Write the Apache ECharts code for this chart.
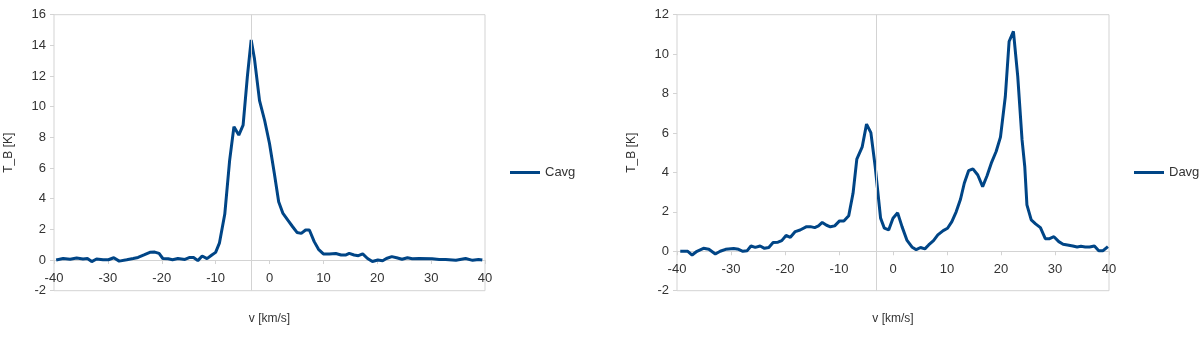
<!DOCTYPE html>
<html>
<head>
<meta charset="utf-8">
<script src="https://cdn.jsdelivr.net/npm/echarts@6/dist/echarts.min.js"></script>
<style>
html,body{margin:0;padding:0;background:#fff;}
#chart{width:1200px;height:343px;}
</style>
</head>
<body>
<div id="chart"></div>
<script>
// ---- Data ----
const cVel = [-39.6,-38.3,-37,-35.8,-34.6,-33.8,-33,-32.1,-30.9,-29.9,-28.9,-27.9,-26.5,-25.3,-24.4,-23.3,-22.2,-21.3,-20.5,-19.8,-18.8,-18,-17,-15.7,-14.8,-14.1,-13.3,-12.5,-11.6,-10.7,-10,-9.3,-8.3,-7.4,-6.6,-5.7,-4.9,-4.1,-3.4,-2.8,-1.85,-0.9,0,0.9,1.7,2.5,3.4,4.3,5.1,5.9,6.7,7.4,8.3,9.1,10,11.1,12.3,13.3,14.2,14.8,15.7,16.5,17.3,18.2,19.1,20.1,21,21.7,22.7,23.6,24.6,25.6,26.5,27.8,30.2,31.5,32.7,34.6,36.4,37.7,38.8,39.5];
const cavg = [0,0.1,0.05,0.13,0.07,0.1,-0.1,0.07,0.02,0.02,0.15,-0.07,0.02,0.1,0.17,0.33,0.5,0.52,0.43,0.1,0.08,0.02,0.1,0.04,0.17,0.17,-0.04,0.26,0.09,0.33,0.5,1.1,3.0,6.5,8.7,8.15,8.8,12,14.35,13.15,10.4,9.1,7.6,5.65,3.8,3.04,2.6,2.17,1.8,1.74,1.96,1.96,1.2,0.7,0.4,0.4,0.43,0.33,0.33,0.43,0.33,0.28,0.4,0.1,-0.1,0,-0.05,0.1,0.22,0.15,0.05,0.15,0.08,0.1,0.08,0.04,0.04,-0.02,0.1,-0.02,0.04,0];

const dVel = [-39.4,-38,-37.2,-36.3,-35.1,-34.1,-32.9,-32,-31,-29.5,-28.6,-27.8,-27,-26.3,-25.5,-24.6,-23.8,-23,-22.2,-21.3,-20.6,-19.8,-19,-18.1,-17.2,-16,-15.3,-14.5,-13.8,-13.1,-12.3,-11.6,-10.8,-9.9,-9.1,-8.2,-7.4,-6.7,-5.7,-4.9,-4.1,-3.3,-2.3,-1.6,-0.8,0,0.86,1.67,2.6,3.5,4.3,5.1,5.9,6.6,7.5,8.3,9.3,10.1,10.9,11.7,12.5,13.2,14,14.8,15.7,16.6,17.4,18.2,19.1,19.9,20.8,21.5,22.3,23.1,23.9,24.4,24.8,25.6,26.4,27.3,28.2,29,29.8,30.7,31.5,32.3,33.3,34.1,34.8,35.6,36.4,37.3,38.1,38.9,39.8];
const davg = [0,0,-0.19,0,0.15,0.1,-0.14,0,0.1,0.14,0.1,0,0.03,0.27,0.2,0.27,0.15,0.19,0.44,0.46,0.54,0.8,0.71,1.0,1.08,1.25,1.25,1.2,1.29,1.46,1.32,1.24,1.29,1.54,1.54,1.8,2.94,4.67,5.3,6.45,6.02,4.3,1.68,1.17,1.08,1.68,1.95,1.25,0.55,0.22,0.08,0.19,0.12,0.32,0.54,0.83,1.05,1.17,1.5,2.0,2.64,3.45,4.09,4.18,3.87,3.28,3.82,4.47,5.06,5.79,7.85,10.64,11.15,8.87,5.65,4.3,2.35,1.59,1.39,1.2,0.64,0.64,0.74,0.49,0.36,0.32,0.27,0.22,0.25,0.22,0.22,0.27,0.03,0.03,0.24];

const xTicks = [-40, 40, 10];      // min, max, interval
const cYTicks = [-2, 16, 2];
const dYTicks = [-2, 12, 2];
const seriesNames = ['Cavg', 'Davg'];
const axisNames = ['v [km/s]', 'T_B [K]'];
const crossV = [-3.3, -3.1];       // v where the vertical (y) axis line crosses

// ---- Build ----
const zip = (a, b) => a.map((v, i) => [v, b[i]]);
const lineColor = '#004586';
const gridColor = '#d3d3d3';
const textColor = '#333';
const FONT = 'Liberation Sans, Arial, sans-serif';
const CH = 343, GTOP = 14.7, GBOT = 52.3;
const plotH = CH - GTOP - GBOT;
// x axis (line, ticks, labels) sits on the T = 0 line, as in the reference
const zeroOffset = t => -plotH * (0 - t[0]) / (t[1] - t[0]);
const NAME_TOP = 313;              // top of the "v [km/s]" title, both panels

function xAxisCfg(gi, yt) {
  const off = zeroOffset(yt);
  const zeroY = GTOP + plotH + off;
  return {
    type: 'value', gridIndex: gi, min: xTicks[0], max: xTicks[1], interval: xTicks[2],
    position: 'bottom', offset: off,
    name: axisNames[0], nameLocation: 'middle', nameGap: NAME_TOP - zeroY,
    nameTextStyle: { color: textColor, fontSize: 12, fontFamily: FONT },
    axisLine: { show: true, onZero: false, lineStyle: { color: gridColor, width: 1 } },
    axisTick: { show: true, length: 4, lineStyle: { color: gridColor } },
    axisLabel: { color: textColor, fontSize: 13, fontFamily: FONT, margin: 12 },
    splitLine: { show: false }
  };
}
function yAxisCfg(gi, t) {
  return {
    type: 'value', gridIndex: gi, min: t[0], max: t[1], interval: t[2],
    name: axisNames[1], nameLocation: 'middle', nameGap: 39, nameRotate: 90,
    nameTextStyle: { color: textColor, fontSize: 12, fontFamily: FONT },
    axisLine: { show: false, onZero: false },
    axisTick: { show: true, length: 4, lineStyle: { color: gridColor } },
    axisLabel: { color: textColor, fontSize: 13, fontFamily: FONT, margin: 8 },
    splitLine: { show: false }
  };
}
function lineSeries(name, xi, data, cross) {
  return {
    name: name, type: 'line', xAxisIndex: xi, yAxisIndex: xi, data: data,
    symbol: 'none', smooth: false, animation: false,
    lineStyle: { color: lineColor, width: 3 }, itemStyle: { color: lineColor },
    z: 3,
    markLine: {
      silent: true, symbol: 'none', animation: false,
      label: { show: false },
      lineStyle: { color: gridColor, width: 1, type: 'solid' },
      data: [{ xAxis: cross }]
    }
  };
}
function legendCfg(name, left) {
  return {
    data: [{ name: name, icon: 'rect' }], left: left, top: 166, padding: 0,
    itemWidth: 30, itemHeight: 3, itemGap: 5,
    textStyle: { color: textColor, fontSize: 13, fontFamily: FONT, padding: [0, 0, 0, 0] }
  };
}

const chart = echarts.init(document.getElementById('chart'), null, { renderer: 'canvas' });
chart.setOption({
  animation: false,
  backgroundColor: '#fff',
  textStyle: { fontFamily: FONT },
  grid: [
    { left: 54, right: 715, top: GTOP, bottom: GBOT, show: true, borderColor: gridColor, borderWidth: 1,
      backgroundColor: 'transparent', containLabel: false, outerBoundsMode: 'none' },
    { left: 677, right: 91, top: GTOP, bottom: GBOT, show: true, borderColor: gridColor, borderWidth: 1,
      backgroundColor: 'transparent', containLabel: false, outerBoundsMode: 'none' }
  ],
  legend: [legendCfg(seriesNames[0], 510), legendCfg(seriesNames[1], 1134)],
  xAxis: [xAxisCfg(0, cYTicks), xAxisCfg(1, dYTicks)],
  yAxis: [yAxisCfg(0, cYTicks), yAxisCfg(1, dYTicks)],
  series: [
    lineSeries(seriesNames[0], 0, zip(cVel, cavg), crossV[0]),
    lineSeries(seriesNames[1], 1, zip(dVel, davg), crossV[1])
  ]
});
</script>
</body>
</html>
